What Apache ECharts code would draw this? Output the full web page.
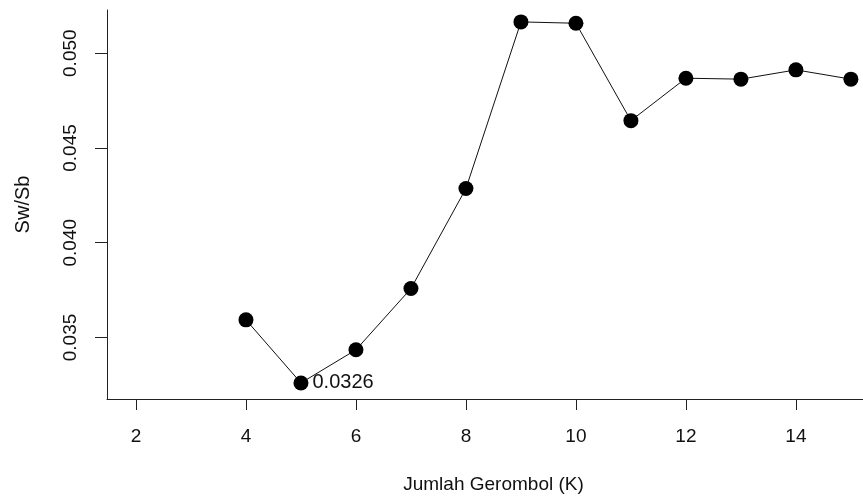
<!DOCTYPE html>
<html>
<head>
<meta charset="utf-8">
<script src="https://cdn.jsdelivr.net/npm/echarts@6/dist/echarts.min.js"></script>
<style>
  html, body { margin: 0; padding: 0; background: #fff; }
  #main { width: 863px; height: 499px; }
</style>
</head>
<body>
<div id="main"></div>
<script>
// jumlah gerombol (K) dan nilai Sw/Sb
const kValues = [4, 5, 6, 7, 8, 9, 10, 11, 12, 13, 14, 15]
const swsb = [0.03593, 0.0326, 0.03435, 0.03758, 0.04286, 0.05165, 0.05158, 0.04644, 0.04868, 0.04863, 0.04912, 0.04863]
const xTicks = [2, 4, 6, 8, 10, 12, 14]
const yTicks = [0.035, 0.040, 0.045, 0.050]
const minK = 5 // titik yang diberi label

const font = 'Liberation Sans, Arial, sans-serif'

const seriesData = kValues.map((k, i) => {
  const item = { value: [k, swsb[i]] }
  if (k === minK) {
    item.label = {
      show: true,
      position: 'right',
      distance: 4,
      formatter: p => p.value[1].toFixed(4),
      color: '#111',
      fontSize: 20,
      fontFamily: font
    }
  }
  return item
})

const myChart = echarts.init(document.getElementById('main'))

const option = {
  animation: false,
  backgroundColor: '#fff',
  grid: {
    left: 107,
    right: 0,
    top: 10,
    bottom: 99
  },
  xAxis: {
    type: 'value',
    min: 1.473,
    max: 15.22,
    name: 'Jumlah Gerombol (K)',
    nameLocation: 'middle',
    nameGap: 76,
    // plot asli lebih lebar dari gambar, judul digeser sedikit ke kanan
    nameTextStyle: { color: '#111', fontSize: 19, fontFamily: font, padding: [0, 0, 0, 17] },
    axisLine: { show: true, lineStyle: { color: '#222', width: 1 } },
    axisTick: { show: true, length: 11, customValues: xTicks, lineStyle: { color: '#222' } },
    axisLabel: { customValues: xTicks, margin: 28, color: '#111', fontSize: 19, fontFamily: font },
    splitLine: { show: false }
  },
  yAxis: {
    type: 'value',
    min: 0.031753,
    max: 0.052279,
    name: 'Sw/Sb',
    nameLocation: 'middle',
    nameGap: 74,
    nameTextStyle: { color: '#111', fontSize: 20, fontFamily: font },
    axisLine: { show: true, lineStyle: { color: '#222', width: 1 } },
    axisTick: { show: true, length: 12, customValues: yTicks, lineStyle: { color: '#222' } },
    axisLabel: {
      customValues: yTicks,
      rotate: 90,
      margin: 27,
      color: '#111',
      fontSize: 19,
      fontFamily: font,
      formatter: v => v.toFixed(3)
    },
    splitLine: { show: false }
  },
  series: [
    {
      type: 'line',
      data: seriesData,
      symbol: 'circle',
      symbolSize: 15,
      itemStyle: { color: '#000' },
      lineStyle: { color: '#111', width: 1 }
    }
  ]
}

myChart.setOption(option)
</script>
</body>
</html>
